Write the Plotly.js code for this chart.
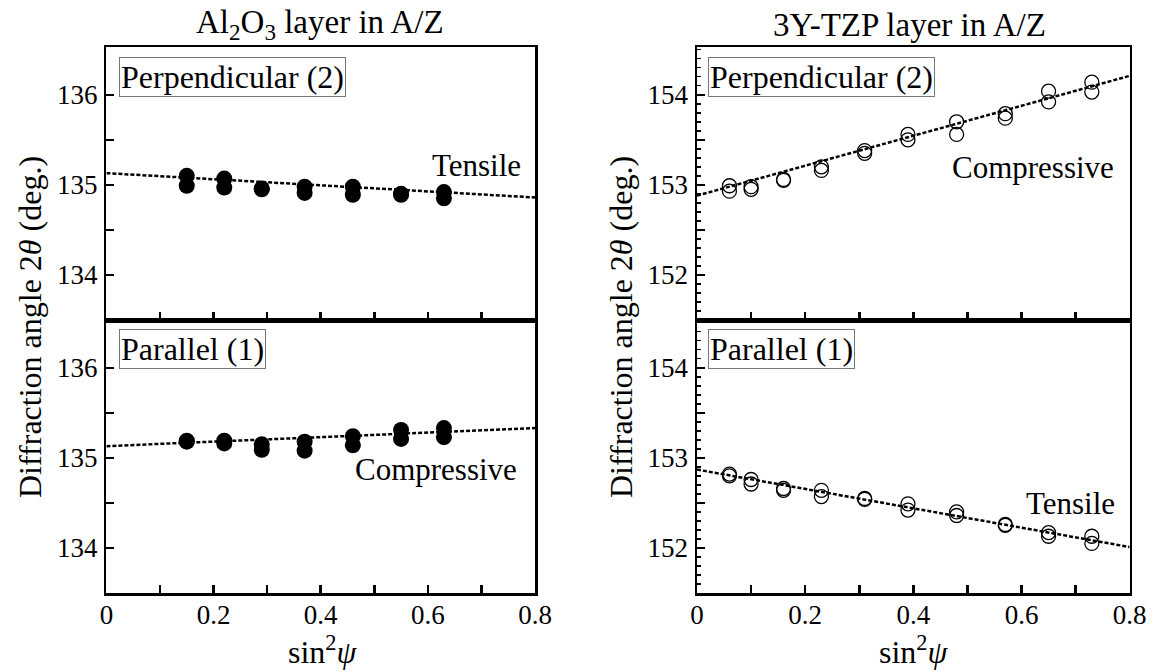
<!DOCTYPE html>
<html><head><meta charset="utf-8">
<script src="https://cdn.plot.ly/plotly-3.0.1.min.js"></script>
<style>html,body{margin:0;padding:0;background:#fff}#chart{width:1163px;height:672px}</style>
</head><body><div id="chart"></div>
<script>
// ---- data ----
const alX = [0.15,0.15,0.22,0.22,0.29,0.29,0.37,0.37,0.46,0.46,0.55,0.55,0.63,0.63];
const alPerpY = [135.10,134.99,135.07,134.97,134.96,134.95,134.98,134.91,134.98,134.89,134.90,134.89,134.92,134.85];
const alParY  = [135.19,135.18,135.19,135.16,135.15,135.09,135.18,135.08,135.24,135.14,135.31,135.21,135.33,135.23];
const tzX = [0.06,0.06,0.10,0.10,0.16,0.16,0.23,0.23,0.31,0.31,0.39,0.39,0.48,0.48,0.57,0.57,0.65,0.65,0.73,0.73];
const tzPerpY = [152.99,152.93,152.98,152.95,153.06,153.05,153.20,153.16,153.38,153.35,153.56,153.50,153.70,153.56,153.79,153.74,154.04,153.92,154.14,154.03];
const tzParY  = [152.82,152.80,152.76,152.71,152.66,152.64,152.64,152.57,152.55,152.54,152.49,152.42,152.40,152.36,152.26,152.25,152.17,152.13,152.13,152.05];
const fitX = [0, 0.8];
const alPerpFit = [135.13, 134.86];
const alParFit  = [135.13, 135.33];
const tzPerpFit = [152.88, 154.21];
const tzParFit  = [152.87, 152.01];
const xTickVals = [0,0.1,0.2,0.3,0.4,0.5,0.6,0.7,0.8];
const xTickText = ['0','','0.2','','0.4','','0.6','','0.8'];
const alYTickVals = [134,134.5,135,135.5,136];
const alYTickText = ['134','','135','','136'];
const tzYTickVals = [152,152.5,153,153.5,154];
const tzYTickText = ['152','','153','','154'];

// ---- layout helpers ----
const W = 1163, H = 672;
const px = v => v / W, py = v => 1 - v / H;
const FONT = '"Liberation Serif", "Times New Roman", Times, serif';
const domL = [px(106.4), px(535)], domR = [px(697), px(1129.7)];
const domTop = [py(320), py(47)], domBot = [py(593), py(320)];

function xax(dom, anchor, labels) {
  return {domain: dom, anchor: anchor, range: [0, 0.8], tickmode: 'array', tickvals: xTickVals,
    ticktext: xTickText, showticklabels: labels, ticks: 'inside', ticklen: 8, tickwidth: 2.5,
    tickcolor: 'black', showline: true, mirror: true, linewidth: 2.5, linecolor: 'black',
    showgrid: false, zeroline: false, ticklabelstandoff: -4,
    tickfont: {family: FONT, size: 27, color: 'black'}};
}
function yax(dom, anchor, range, vals, text, minor) {
  const a = {domain: dom, anchor: anchor, range: range, tickmode: 'array', tickvals: vals, ticktext: text,
    ticks: 'inside', ticklen: 8, tickwidth: 2.5, tickcolor: 'black', showline: true, mirror: true,
    linewidth: 2.5, linecolor: 'black', showgrid: false, zeroline: false, ticklabelstandoff: 1,
    tickfont: {family: FONT, size: 27, color: 'black'}};
  if (minor) a.minor = {tickmode: 'linear', tick0: 0, dtick: 0.1, ticks: 'inside', ticklen: 4,
    tickwidth: 1.5, tickcolor: 'black', showgrid: false};
  return a;
}
const dotLine = {color: 'black', width: 2.5, dash: '4px,2px'};
const filled = {symbol: 'circle', size: 16, color: 'black'};
const openM = {symbol: 'circle-open', size: 14, color: 'black', line: {width: 1.3, color: 'black'}};

const traces = [
  {x: fitX, y: alPerpFit, xaxis: 'x', yaxis: 'y', mode: 'lines', line: dotLine},
  {x: alX, y: alPerpY, xaxis: 'x', yaxis: 'y', mode: 'markers', marker: filled},
  {x: fitX, y: alParFit, xaxis: 'x2', yaxis: 'y2', mode: 'lines', line: dotLine},
  {x: alX, y: alParY, xaxis: 'x2', yaxis: 'y2', mode: 'markers', marker: filled},
  {x: fitX, y: tzPerpFit, xaxis: 'x3', yaxis: 'y3', mode: 'lines', line: dotLine},
  {x: tzX, y: tzPerpY, xaxis: 'x3', yaxis: 'y3', mode: 'markers', marker: openM},
  {x: fitX, y: tzParFit, xaxis: 'x4', yaxis: 'y4', mode: 'lines', line: dotLine},
  {x: tzX, y: tzParY, xaxis: 'x4', yaxis: 'y4', mode: 'markers', marker: openM}
];

function txt(text, x, y, size, opts) {
  return Object.assign({text: text, xref: 'paper', yref: 'paper', x: px(x), y: py(y), showarrow: false,
    font: {family: FONT, size: size, color: 'black'}, xanchor: 'center', yanchor: 'middle'}, opts || {});
}
function boxed(text, x, y) {
  return txt(text, x, y, 32, {xanchor: 'left', yanchor: 'top', bordercolor: '#777', borderwidth: 1,
    borderpad: 1, bgcolor: 'white'});
}

const layout = {
  width: W, height: H, margin: {l: 0, r: 0, t: 0, b: 0}, showlegend: false,
  paper_bgcolor: 'white', plot_bgcolor: 'white', font: {family: FONT, color: 'black'},
  xaxis: xax(domL, 'y', false),
  yaxis: yax(domTop, 'x', [133.5, 136.53], alYTickVals, alYTickText, false),
  xaxis2: xax(domL, 'y2', true),
  yaxis2: yax(domBot, 'x2', [133.5, 136.53], alYTickVals, alYTickText, false),
  xaxis3: xax(domR, 'y3', false),
  yaxis3: yax(domTop, 'x3', [151.5, 154.53], tzYTickVals, tzYTickText, true),
  xaxis4: xax(domR, 'y4', true),
  yaxis4: yax(domBot, 'x4', [151.5, 154.53], tzYTickVals, tzYTickText, true),
  annotations: [
    txt('Al<sub>2</sub>O<sub>3</sub> layer in A/Z', 320, 25, 33),
    txt('3Y-TZP layer in A/Z', 909, 25, 33),
    txt('sin<sup>2</sup><i>ψ</i>', 323, 650, 32),
    txt('sin<sup>2</sup><i>ψ</i>', 914, 650, 32),
    txt('Diffraction angle 2<i>θ</i> (deg.)', 30, 327, 32, {textangle: -90}),
    txt('Diffraction angle 2<i>θ</i> (deg.)', 621, 327, 32, {textangle: -90}),
    boxed('Perpendicular (2)', 119, 57),
    boxed('Parallel (1)', 119, 329),
    boxed('Perpendicular (2)', 708, 57),
    boxed('Parallel (1)', 708, 329),
    txt('Tensile', 476, 165, 31),
    txt('Compressive', 436, 469, 31),
    txt('Compressive', 1033, 167, 31),
    txt('Tensile', 1070, 503, 31)
  ]
};
Plotly.newPlot('chart', traces, layout, {staticPlot: true, displayModeBar: false});
</script></body></html>
